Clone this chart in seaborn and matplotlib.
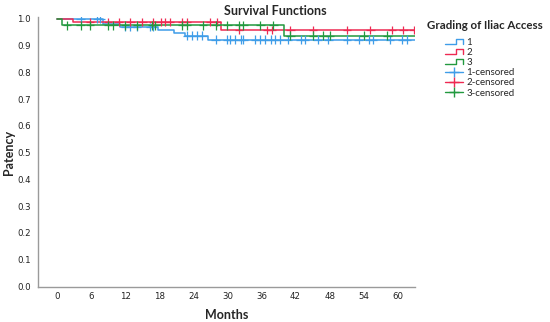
import numpy as np
import pandas as pd
import seaborn as sns
import matplotlib.pyplot as plt
from matplotlib.lines import Line2D
from matplotlib.legend_handler import HandlerBase

# step points of each survival curve (month, patency)
groups = ['1', '2', '3']
step_months_1 = [0, 8.0, 11.1, 17.8, 20.5, 22.6, 26.6]
step_patency_1 = [1.0, 0.98, 0.968, 0.958, 0.947, 0.937, 0.922]
step_months_2 = [0, 2.8, 28.9]
step_patency_2 = [1.0, 0.988, 0.958]
step_months_3 = [0, 0.8, 40.0]
step_patency_3 = [1.0, 0.975, 0.937]
last_month = 63

# censored observations (months)
censored_1 = [4.1, 7.0, 7.6, 12.0, 12.9, 14.1, 16.4, 16.9, 22.9, 23.8, 24.7, 25.6,
              27.9, 30.0, 30.5, 31.4, 32.3, 32.8, 34.9, 35.8, 36.7, 37.6, 38.4, 39.3,
              40.7, 42.9, 43.7, 45.9, 47.8, 51.1, 53.1, 54.9, 55.7, 58.7, 60.8, 61.7]
censored_2 = [5.8, 8.9, 10.8, 12.9, 15.0, 16.9, 18.2, 19.0, 19.9, 22.0, 22.9, 27.0,
              28.2, 32.0, 37.0, 37.9, 41.1, 45.1, 51.1, 55.2, 59.0, 61.0, 62.8]
censored_3 = [1.7, 4.1, 5.8, 9.0, 9.9, 12.0, 14.1, 16.7, 17.3, 22.0, 22.9, 25.7,
              27.9, 30.0, 32.0, 32.8, 35.8, 38.1, 41.1, 45.1, 46.9, 48.1, 54.0, 58.2]

colors = {'1': '#3f9de8', '2': '#ee2a52', '3': '#22993f'}

steps = {'1': (step_months_1, step_patency_1),
         '2': (step_months_2, step_patency_2),
         '3': (step_months_3, step_patency_3)}
censored = {'1': censored_1, '2': censored_2, '3': censored_3}

line_rows = []
cens_rows = []
for g in groups:
    m, p = steps[g]
    for mi, pi in zip(m + [last_month], p + [p[-1]]):
        line_rows.append({'Months': mi, 'Patency': pi, 'group': g})
    for c in censored[g]:
        idx = np.searchsorted(m, c, side='right') - 1
        cens_rows.append({'Months': c, 'Patency': p[idx], 'group': g})
lines = pd.DataFrame(line_rows)
cens = pd.DataFrame(cens_rows)


class StepHandler(HandlerBase):
    def create_artists(self, legend, orig_handle, xdescent, ydescent, width, height,
                       fontsize, trans):
        x0 = -xdescent
        y0 = -ydescent + height * 0.15
        y1 = -ydescent + height * 0.85
        xs = [x0, x0 + width * 0.62, x0 + width * 0.62, x0 + width, x0 + width]
        ys = [y0, y0, y1, y1, y0]
        ln = Line2D(xs, ys, color=orig_handle.get_color(), lw=1.0, transform=trans)
        return [ln]


sns.set_style('white')
plt.rcParams['font.family'] = ['Lato', 'DejaVu Sans']

fig = plt.figure(figsize=(5.5, 3.22), dpi=100)
ax = fig.add_axes([0.069, 0.11, 0.686, 0.837])

sns.lineplot(data=lines, x='Months', y='Patency', hue='group', palette=colors,
             drawstyle='steps-post', estimator=None, linewidth=1.1, legend=False, ax=ax)
sns.scatterplot(data=cens, x='Months', y='Patency', hue='group', palette=colors,
                marker='+', s=36, linewidth=0.9, legend=False, ax=ax, zorder=3)

ax.set_xlim(-3.4, 63.1)
ax.set_ylim(0, 1.006)
ax.set_xticks(np.arange(0, 61, 6))
ax.set_yticks(np.arange(0, 1.01, 0.1))
ax.set_yticklabels([f'{v:.1f}' for v in np.arange(0, 1.01, 0.1)])
ax.tick_params(length=0, labelsize=6.2, labelcolor='#222222', pad=5)
ax.tick_params(axis='x', pad=4)
for lab in ax.get_xticklabels() + ax.get_yticklabels():
    lab.set_family('DejaVu Sans')
sns.despine(ax=ax)
for s in ['left', 'bottom']:
    ax.spines[s].set_color('#9a9a9a')
    ax.spines[s].set_linewidth(1.0)

ax.set_xlabel('Months', fontsize=9, fontweight='bold', labelpad=6)
ax.set_ylabel('')
fig.text(0.016, 0.528, 'Patency', rotation=90, fontsize=9, fontweight='bold',
         ha='center', va='center')
fig.suptitle('Survival Functions', fontsize=9, fontweight='bold', x=0.5, y=0.985)

handles = [Line2D([], [], color=colors[g]) for g in groups]
handles += [Line2D([], [], color=colors[g], marker='+', markersize=7, lw=1.0) for g in groups]
labels = groups + [f'{g}-censored' for g in groups]
handler_map = {h: StepHandler() for h in handles[:3]}
fig.text(0.882, 0.922, 'Grading of Iliac Access', fontsize=8.3, fontweight='bold',
         ha='center', va='center')
leg = fig.legend(handles, labels, handler_map=handler_map, loc='upper left',
                 bbox_to_anchor=(0.806, 0.889), frameon=False, fontsize=7,
                 handlelength=1.8, handletextpad=0.35,
                 labelspacing=0.12, borderpad=0.2, borderaxespad=0)

fig.savefig('out.png', dpi=100)
